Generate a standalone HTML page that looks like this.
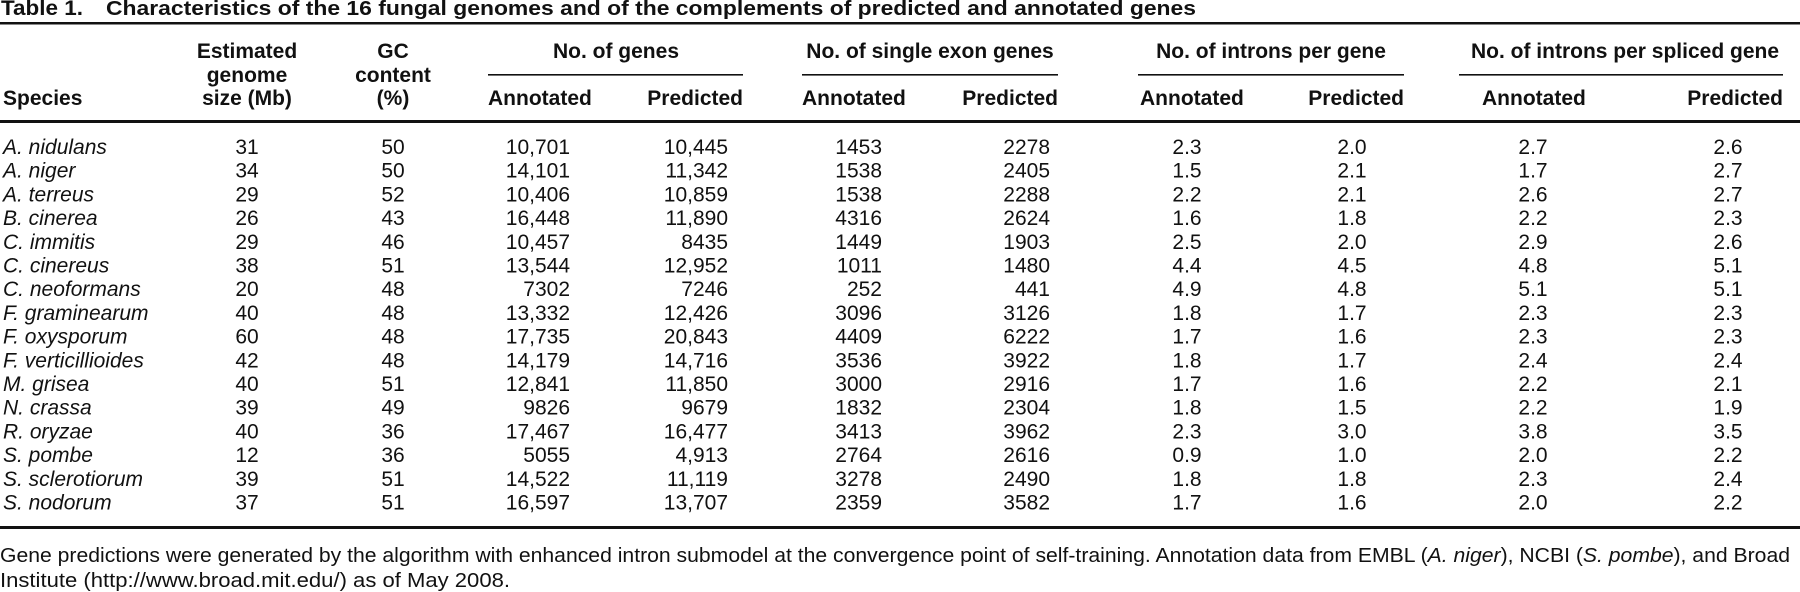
<!DOCTYPE html>
<html><head><meta charset="utf-8"><style>
html,body{margin:0;padding:0;background:#fff;}
svg{display:block;}
text{font-family:"Liberation Sans",sans-serif;fill:#111;}
.h{font-size:21px;font-weight:bold;}
.d{font-size:21px;}
.s{font-size:21px;font-style:italic;}
.f{font-size:20px;}
</style></head><body>
<svg width="1800" height="592" viewBox="0 0 1800 592" xmlns="http://www.w3.org/2000/svg">
<text x="1" y="15" style="font-size:21px;font-weight:bold" textLength="82" lengthAdjust="spacingAndGlyphs">Table 1.</text>
<text x="106" y="15" style="font-size:20px;font-weight:bold" textLength="1090" lengthAdjust="spacingAndGlyphs">Characteristics of the 16 fungal genomes and of the complements of predicted and annotated genes</text>
<rect x="0" y="22" width="1800" height="2.5" fill="#111"/>
<g class="h">
<text x="3" y="105">Species</text>
<text x="247" y="58" text-anchor="middle">Estimated</text>
<text x="247" y="82" text-anchor="middle">genome</text>
<text x="247" y="105" text-anchor="middle">size (Mb)</text>
<text x="393" y="58" text-anchor="middle">GC</text>
<text x="393" y="82" text-anchor="middle">content</text>
<text x="393" y="105" text-anchor="middle">(%)</text>
<text x="616" y="58" text-anchor="middle">No. of genes</text>
<text x="930" y="58" text-anchor="middle">No. of single exon genes</text>
<text x="1271" y="58" text-anchor="middle">No. of introns per gene</text>
<text x="1625" y="58" text-anchor="middle">No. of introns per spliced gene</text>
<text x="488" y="105">Annotated</text>
<text x="743" y="105" text-anchor="end">Predicted</text>
<text x="802" y="105">Annotated</text>
<text x="1058" y="105" text-anchor="end">Predicted</text>
<text x="1140" y="105">Annotated</text>
<text x="1404" y="105" text-anchor="end">Predicted</text>
<text x="1482" y="105">Annotated</text>
<text x="1783" y="105" text-anchor="end">Predicted</text>
</g>
<rect x="488" y="74" width="255" height="1.6" fill="#111"/>
<rect x="802" y="74" width="256" height="1.6" fill="#111"/>
<rect x="1138" y="74" width="266" height="1.6" fill="#111"/>
<rect x="1459" y="74" width="324" height="1.6" fill="#111"/>
<rect x="0" y="120" width="1800" height="3" fill="#111"/>
<rect x="0" y="526" width="1800" height="3" fill="#111"/>
<text class="f" x="0" y="562" textLength="1790" lengthAdjust="spacingAndGlyphs">Gene predictions were generated by the algorithm with enhanced intron submodel at the convergence point of self-training. Annotation data from EMBL (<tspan font-style="italic">A. niger</tspan>), NCBI (<tspan font-style="italic">S. pombe</tspan>), and Broad</text>
<text class="f" x="0" y="587" textLength="510" lengthAdjust="spacingAndGlyphs">Institute (http://www.broad.mit.edu/) as of May 2008.</text>
<g class="d">
<text class="s" x="3" y="154">A. nidulans</text><text x="247" y="154" text-anchor="middle">31</text><text x="393" y="154" text-anchor="middle">50</text><text x="570" y="154" text-anchor="end">10,701</text><text x="728" y="154" text-anchor="end">10,445</text><text x="882" y="154" text-anchor="end">1453</text><text x="1050" y="154" text-anchor="end">2278</text><text x="1187" y="154" text-anchor="middle">2.3</text><text x="1352" y="154" text-anchor="middle">2.0</text><text x="1533" y="154" text-anchor="middle">2.7</text><text x="1728" y="154" text-anchor="middle">2.6</text>
<text class="s" x="3" y="177.7">A. niger</text><text x="247" y="177.7" text-anchor="middle">34</text><text x="393" y="177.7" text-anchor="middle">50</text><text x="570" y="177.7" text-anchor="end">14,101</text><text x="728" y="177.7" text-anchor="end">11,342</text><text x="882" y="177.7" text-anchor="end">1538</text><text x="1050" y="177.7" text-anchor="end">2405</text><text x="1187" y="177.7" text-anchor="middle">1.5</text><text x="1352" y="177.7" text-anchor="middle">2.1</text><text x="1533" y="177.7" text-anchor="middle">1.7</text><text x="1728" y="177.7" text-anchor="middle">2.7</text>
<text class="s" x="3" y="201.4">A. terreus</text><text x="247" y="201.4" text-anchor="middle">29</text><text x="393" y="201.4" text-anchor="middle">52</text><text x="570" y="201.4" text-anchor="end">10,406</text><text x="728" y="201.4" text-anchor="end">10,859</text><text x="882" y="201.4" text-anchor="end">1538</text><text x="1050" y="201.4" text-anchor="end">2288</text><text x="1187" y="201.4" text-anchor="middle">2.2</text><text x="1352" y="201.4" text-anchor="middle">2.1</text><text x="1533" y="201.4" text-anchor="middle">2.6</text><text x="1728" y="201.4" text-anchor="middle">2.7</text>
<text class="s" x="3" y="225.1">B. cinerea</text><text x="247" y="225.1" text-anchor="middle">26</text><text x="393" y="225.1" text-anchor="middle">43</text><text x="570" y="225.1" text-anchor="end">16,448</text><text x="728" y="225.1" text-anchor="end">11,890</text><text x="882" y="225.1" text-anchor="end">4316</text><text x="1050" y="225.1" text-anchor="end">2624</text><text x="1187" y="225.1" text-anchor="middle">1.6</text><text x="1352" y="225.1" text-anchor="middle">1.8</text><text x="1533" y="225.1" text-anchor="middle">2.2</text><text x="1728" y="225.1" text-anchor="middle">2.3</text>
<text class="s" x="3" y="248.8">C. immitis</text><text x="247" y="248.8" text-anchor="middle">29</text><text x="393" y="248.8" text-anchor="middle">46</text><text x="570" y="248.8" text-anchor="end">10,457</text><text x="728" y="248.8" text-anchor="end">8435</text><text x="882" y="248.8" text-anchor="end">1449</text><text x="1050" y="248.8" text-anchor="end">1903</text><text x="1187" y="248.8" text-anchor="middle">2.5</text><text x="1352" y="248.8" text-anchor="middle">2.0</text><text x="1533" y="248.8" text-anchor="middle">2.9</text><text x="1728" y="248.8" text-anchor="middle">2.6</text>
<text class="s" x="3" y="272.5">C. cinereus</text><text x="247" y="272.5" text-anchor="middle">38</text><text x="393" y="272.5" text-anchor="middle">51</text><text x="570" y="272.5" text-anchor="end">13,544</text><text x="728" y="272.5" text-anchor="end">12,952</text><text x="882" y="272.5" text-anchor="end">1011</text><text x="1050" y="272.5" text-anchor="end">1480</text><text x="1187" y="272.5" text-anchor="middle">4.4</text><text x="1352" y="272.5" text-anchor="middle">4.5</text><text x="1533" y="272.5" text-anchor="middle">4.8</text><text x="1728" y="272.5" text-anchor="middle">5.1</text>
<text class="s" x="3" y="296.2">C. neoformans</text><text x="247" y="296.2" text-anchor="middle">20</text><text x="393" y="296.2" text-anchor="middle">48</text><text x="570" y="296.2" text-anchor="end">7302</text><text x="728" y="296.2" text-anchor="end">7246</text><text x="882" y="296.2" text-anchor="end">252</text><text x="1050" y="296.2" text-anchor="end">441</text><text x="1187" y="296.2" text-anchor="middle">4.9</text><text x="1352" y="296.2" text-anchor="middle">4.8</text><text x="1533" y="296.2" text-anchor="middle">5.1</text><text x="1728" y="296.2" text-anchor="middle">5.1</text>
<text class="s" x="3" y="319.9">F. graminearum</text><text x="247" y="319.9" text-anchor="middle">40</text><text x="393" y="319.9" text-anchor="middle">48</text><text x="570" y="319.9" text-anchor="end">13,332</text><text x="728" y="319.9" text-anchor="end">12,426</text><text x="882" y="319.9" text-anchor="end">3096</text><text x="1050" y="319.9" text-anchor="end">3126</text><text x="1187" y="319.9" text-anchor="middle">1.8</text><text x="1352" y="319.9" text-anchor="middle">1.7</text><text x="1533" y="319.9" text-anchor="middle">2.3</text><text x="1728" y="319.9" text-anchor="middle">2.3</text>
<text class="s" x="3" y="343.6">F. oxysporum</text><text x="247" y="343.6" text-anchor="middle">60</text><text x="393" y="343.6" text-anchor="middle">48</text><text x="570" y="343.6" text-anchor="end">17,735</text><text x="728" y="343.6" text-anchor="end">20,843</text><text x="882" y="343.6" text-anchor="end">4409</text><text x="1050" y="343.6" text-anchor="end">6222</text><text x="1187" y="343.6" text-anchor="middle">1.7</text><text x="1352" y="343.6" text-anchor="middle">1.6</text><text x="1533" y="343.6" text-anchor="middle">2.3</text><text x="1728" y="343.6" text-anchor="middle">2.3</text>
<text class="s" x="3" y="367.3">F. verticillioides</text><text x="247" y="367.3" text-anchor="middle">42</text><text x="393" y="367.3" text-anchor="middle">48</text><text x="570" y="367.3" text-anchor="end">14,179</text><text x="728" y="367.3" text-anchor="end">14,716</text><text x="882" y="367.3" text-anchor="end">3536</text><text x="1050" y="367.3" text-anchor="end">3922</text><text x="1187" y="367.3" text-anchor="middle">1.8</text><text x="1352" y="367.3" text-anchor="middle">1.7</text><text x="1533" y="367.3" text-anchor="middle">2.4</text><text x="1728" y="367.3" text-anchor="middle">2.4</text>
<text class="s" x="3" y="391">M. grisea</text><text x="247" y="391" text-anchor="middle">40</text><text x="393" y="391" text-anchor="middle">51</text><text x="570" y="391" text-anchor="end">12,841</text><text x="728" y="391" text-anchor="end">11,850</text><text x="882" y="391" text-anchor="end">3000</text><text x="1050" y="391" text-anchor="end">2916</text><text x="1187" y="391" text-anchor="middle">1.7</text><text x="1352" y="391" text-anchor="middle">1.6</text><text x="1533" y="391" text-anchor="middle">2.2</text><text x="1728" y="391" text-anchor="middle">2.1</text>
<text class="s" x="3" y="414.7">N. crassa</text><text x="247" y="414.7" text-anchor="middle">39</text><text x="393" y="414.7" text-anchor="middle">49</text><text x="570" y="414.7" text-anchor="end">9826</text><text x="728" y="414.7" text-anchor="end">9679</text><text x="882" y="414.7" text-anchor="end">1832</text><text x="1050" y="414.7" text-anchor="end">2304</text><text x="1187" y="414.7" text-anchor="middle">1.8</text><text x="1352" y="414.7" text-anchor="middle">1.5</text><text x="1533" y="414.7" text-anchor="middle">2.2</text><text x="1728" y="414.7" text-anchor="middle">1.9</text>
<text class="s" x="3" y="438.4">R. oryzae</text><text x="247" y="438.4" text-anchor="middle">40</text><text x="393" y="438.4" text-anchor="middle">36</text><text x="570" y="438.4" text-anchor="end">17,467</text><text x="728" y="438.4" text-anchor="end">16,477</text><text x="882" y="438.4" text-anchor="end">3413</text><text x="1050" y="438.4" text-anchor="end">3962</text><text x="1187" y="438.4" text-anchor="middle">2.3</text><text x="1352" y="438.4" text-anchor="middle">3.0</text><text x="1533" y="438.4" text-anchor="middle">3.8</text><text x="1728" y="438.4" text-anchor="middle">3.5</text>
<text class="s" x="3" y="462.1">S. pombe</text><text x="247" y="462.1" text-anchor="middle">12</text><text x="393" y="462.1" text-anchor="middle">36</text><text x="570" y="462.1" text-anchor="end">5055</text><text x="728" y="462.1" text-anchor="end">4,913</text><text x="882" y="462.1" text-anchor="end">2764</text><text x="1050" y="462.1" text-anchor="end">2616</text><text x="1187" y="462.1" text-anchor="middle">0.9</text><text x="1352" y="462.1" text-anchor="middle">1.0</text><text x="1533" y="462.1" text-anchor="middle">2.0</text><text x="1728" y="462.1" text-anchor="middle">2.2</text>
<text class="s" x="3" y="485.8">S. sclerotiorum</text><text x="247" y="485.8" text-anchor="middle">39</text><text x="393" y="485.8" text-anchor="middle">51</text><text x="570" y="485.8" text-anchor="end">14,522</text><text x="728" y="485.8" text-anchor="end">11,119</text><text x="882" y="485.8" text-anchor="end">3278</text><text x="1050" y="485.8" text-anchor="end">2490</text><text x="1187" y="485.8" text-anchor="middle">1.8</text><text x="1352" y="485.8" text-anchor="middle">1.8</text><text x="1533" y="485.8" text-anchor="middle">2.3</text><text x="1728" y="485.8" text-anchor="middle">2.4</text>
<text class="s" x="3" y="509.5">S. nodorum</text><text x="247" y="509.5" text-anchor="middle">37</text><text x="393" y="509.5" text-anchor="middle">51</text><text x="570" y="509.5" text-anchor="end">16,597</text><text x="728" y="509.5" text-anchor="end">13,707</text><text x="882" y="509.5" text-anchor="end">2359</text><text x="1050" y="509.5" text-anchor="end">3582</text><text x="1187" y="509.5" text-anchor="middle">1.7</text><text x="1352" y="509.5" text-anchor="middle">1.6</text><text x="1533" y="509.5" text-anchor="middle">2.0</text><text x="1728" y="509.5" text-anchor="middle">2.2</text>
</g>
</svg>
</body></html>
